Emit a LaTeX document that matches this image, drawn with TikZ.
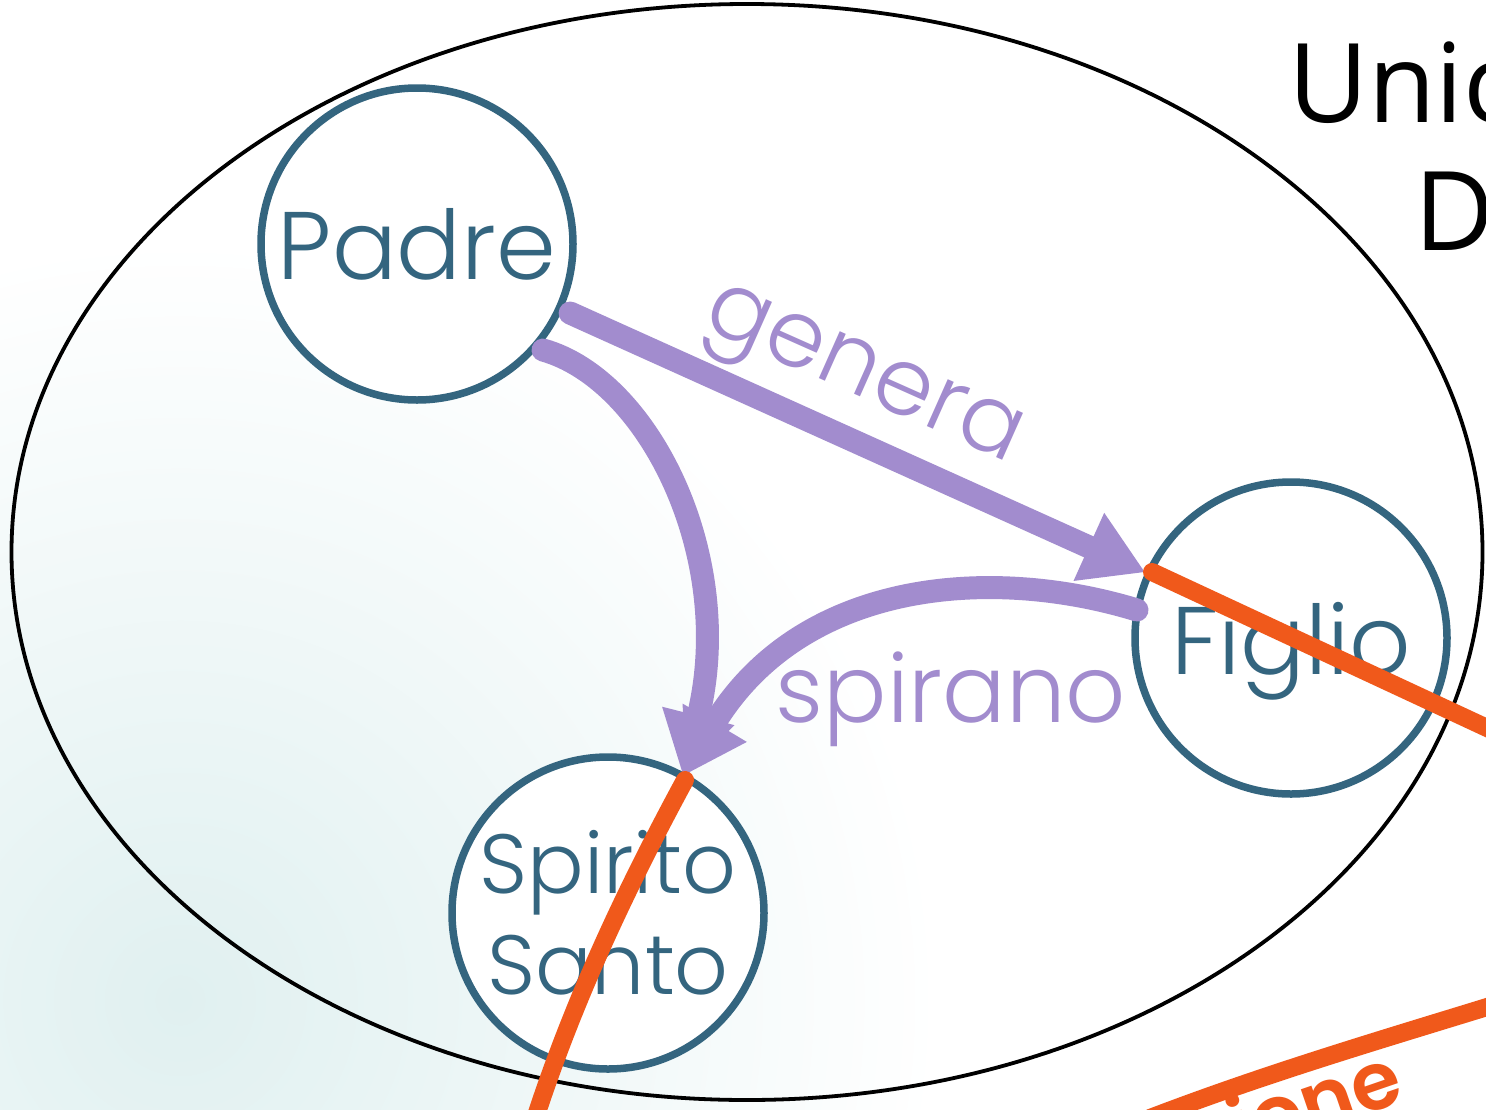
\documentclass[tikz,border=0pt]{standalone}
\usepackage{fontspec}
\setmainfont{Poppins}[UprightFont=* Light, BoldFont=* SemiBold]
\newfontfamily\titlefont{Open Sans}
\usetikzlibrary{arrows.meta,calc,shapes.geometric}
\definecolor{nodec}{RGB}{52,101,127}
\definecolor{relc}{RGB}{162,140,206}
\definecolor{orc}{RGB}{240,89,27}
\definecolor{bgc}{RGB}{224,240,240}
\tikzset{
  pers/.style={circle, draw=nodec, line width=7.5pt, fill=white, minimum size=312pt, inner sep=0pt,
    text=nodec, font=\fontsize{96}{102}\selectfont, align=center},
  rel/.style={draw=relc, line width=23pt, line cap=round, -{Triangle[length=62pt,width=70pt]}},
  rellbl/.style={text=relc, font=\fontsize{94}{102}\selectfont, inner sep=0pt},
  orline/.style={draw=orc, line width=18pt, line cap=round},
  whole/.style={ellipse, draw=black, line width=3.8pt, inner sep=0pt}
}
\begin{document}
\begin{tikzpicture}[x=1pt,y=-1pt]
\useasboundingbox (0,0) rectangle (1486,1109);
\clip (0,0) rectangle (1486,1109);
\fill[white] (0,0) rectangle (1486,1109);
\shade[inner color=bgc, outer color=white] (180,1000) circle (760);
\node[whole, minimum width=1471pt, minimum height=1096pt] (unita) at (747,552) {};
\node[anchor=base west, inner sep=0pt, font=\titlefont\fontsize{110}{120}\selectfont] (unico) at (1288,122) {Unico};
\node[anchor=base west, inner sep=0pt, font=\titlefont\fontsize{110}{120}\selectfont] (dio) at (1414,250) {Dio};
\node[pers, text depth=0pt] (padre) at (417,244) {Padre};
\node[pers, text depth=0pt] (figlio) at (1291,638) {Figlio};
\node[pers, font=\fontsize{84}{101}\selectfont] (spirito) at (608,913) {Spirito\\Santo};
\draw[rel] ($(padre.center)!168pt!(figlio.center)$) -- (figlio);
\draw[rel] ($(padre.center)+(126,106)$) .. controls (650,380) and (738,560) .. ($(spirito.center)+(75,-137)$);
\draw[rel] ($(figlio.center)+(-154,-28)$) .. controls (990,565) and (800,580) .. ($(spirito.center)+(75,-137)$);
\node[rellbl, rotate=-24, anchor=base] (genera) at (855,395) {genera};
\node[rellbl, anchor=base] (spirano) at (951,722) {spirano};
\coordinate (oa) at (1500,734);
\coordinate (ob) at (533,1125);
\draw[orline] ($(figlio.center)+(-139,-66)$) -- (oa);
\draw[orline] ($(spirito.center)+(77,-133)$) .. controls (620,900) and (570,1010) .. (ob);
\coordinate (oc) at (1150,1118);
\coordinate (od) at (1500,1003);
\draw[orline] (oc) .. controls (1270,1072) and (1390,1037) .. (od);
\node[text=orc, font=\bfseries\fontsize{80}{90}\selectfont, rotate=19, anchor=base east, inner sep=0pt] (ione) at (1407,1100) {ione};
\end{tikzpicture}
\end{document}
